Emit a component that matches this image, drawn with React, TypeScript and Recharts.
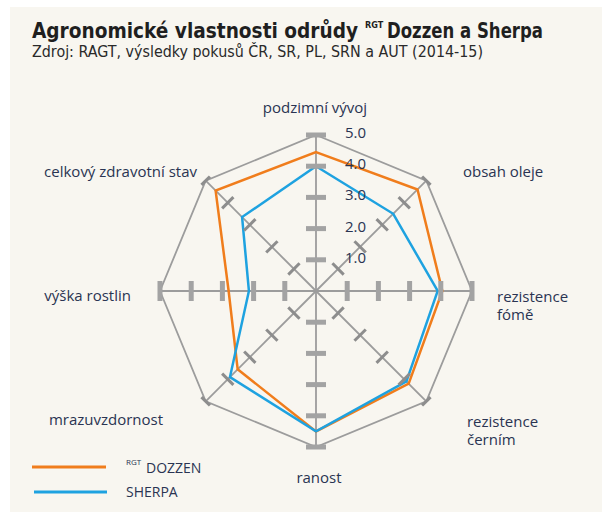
import { PolarAngleAxis, PolarGrid, PolarRadiusAxis, Radar, RadarChart } from "recharts";

const categories = [
  "podzimní vývoj",
  "obsah oleje",
  "rezistence fómě",
  "rezistence černím",
  "ranost",
  "mrazuvzdornost",
  "výška rostlin",
  "celkový zdravotní stav",
];
const dozzen = [4.45, 4.6, 4.05, 4.2, 4.5, 3.55, 2.8, 4.55];
const sherpa = [4.0, 3.5, 3.9, 4.1, 4.5, 3.9, 2.15, 3.35];
const scaleTicks = [0, 1, 2, 3, 4, 5];
const tickLevels = [1, 2, 3, 4, 5];

const data = categories.map((name, i) => {
  const row: Record<string, unknown> = { name, dozzen: dozzen[i], sherpa: sherpa[i] };
  tickLevels.forEach((t) => {
    row["t" + t] = t;
  });
  return row;
});

const ORANGE = "#f07d1c";
const BLUE = "#1ea2e0";
const TEXT = "#2a3452";
const GRID = "#9c9c9c";
const FONT = "'Open Sans', 'Noto Sans', sans-serif";
const NARROW = "'Liberation Sans Narrow', 'DejaVu Sans Condensed', sans-serif";

const CX = 316;
const CY = 291;
const R = 156;

// label placement relative to the angle-axis tick point
const labelPos = [
  { dx: -1, dy: -14, anchor: "middle" },
  { dx: 31, dy: 2, anchor: "start" },
  { dx: 17, dy: 11, anchor: "start" },
  { dx: 35, dy: 20, anchor: "start" },
  { dx: 3, dy: 28, anchor: "middle" },
  { dx: -37, dy: 18, anchor: "end" },
  { dx: -21, dy: 10, anchor: "end" },
  { dx: -3, dy: 2, anchor: "end" },
];

function AngleTick(props: any) {
  const { x, y, payload } = props;
  const i = categories.indexOf(payload.value);
  const p = labelPos[i] || { dx: 0, dy: 0, anchor: "middle" };
  const lines: string[] = payload.value.startsWith("rezistence") ? payload.value.split(" ") : [payload.value];
  return (
    <g>
      {lines.map((l, k) => (
        <text key={k} x={x + p.dx} y={y + p.dy + k * 18} textAnchor={p.anchor} fontSize={15} fill={TEXT} fontFamily={FONT}>
          {l}
        </text>
      ))}
    </g>
  );
}

function RadiusLabel(props: any) {
  const { x, y, payload } = props;
  if (!payload || payload.value === 0) return <g />;
  return (
    <text x={x + 29} y={y + 3} fontSize={15} fill={TEXT} fontFamily={FONT}>
      {Number(payload.value).toFixed(1)}
    </text>
  );
}

// cross bar drawn across each spoke at the tick level
function tickDot(props: any) {
  const { cx: x, cy: y, dataKey } = props;
  const dx = x - CX;
  const dy = y - CY;
  const len = Math.hypot(dx, dy) || 1;
  const px = -dy / len;
  const py = dx / len;
  const diag = Math.abs(dx) > 1 && Math.abs(dy) > 1;
  const outer = dataKey === "t5";
  const half = diag ? (outer ? 6 : 8) : 10;
  return (
    <line
      x1={x - px * half}
      y1={y - py * half}
      x2={x + px * half}
      y2={y + py * half}
      stroke={diag ? "#8d8d8d" : "#a3a3a3"}
      strokeWidth={diag ? 3 : 5}
    />
  );
}

export default function App() {
  return (
    <div style={{ position: "absolute", left: 0, top: 0, width: 602, height: 512, background: "#fff", overflow: "hidden" }}>
      <div style={{ position: "absolute", left: 10, top: 7, right: 0, bottom: 0, background: "#f8f6f0" }} />
      <div style={{ position: "absolute", left: 0, top: 0 }}>
        <RadarChart
          width={602}
          height={512}
          data={data}
          cx={CX}
          cy={CY}
          outerRadius={R}
          margin={{ top: 0, right: 0, bottom: 0, left: 0 }}
        >
          <PolarGrid gridType="polygon" polarRadius={[R]} stroke={GRID} strokeWidth={1.8} />
          <PolarAngleAxis dataKey="name" tick={<AngleTick />} tickLine={false} axisLine={false} />
          <PolarRadiusAxis
            angle={90}
            type="number"
            domain={[0, 5]}
            ticks={scaleTicks}
            tickCount={6}
            axisLine={false}
            tick={<RadiusLabel />}
          />
          {tickLevels.map((t) => (
            <Radar
              key={t}
              dataKey={"t" + t}
              stroke="none"
              fill="none"
              fillOpacity={0}
              dot={tickDot}
              isAnimationActive={false}
            />
          ))}
          <Radar
            dataKey="dozzen"
            stroke={ORANGE}
            strokeWidth={2.5}
            fill="none"
            fillOpacity={0}
            dot={false}
            isAnimationActive={false}
          />
          <Radar
            dataKey="sherpa"
            stroke={BLUE}
            strokeWidth={2.5}
            fill="none"
            fillOpacity={0}
            dot={false}
            isAnimationActive={false}
          />
        </RadarChart>
      </div>
      <svg width={602} height={512} style={{ position: "absolute", left: 0, top: 0, pointerEvents: "none" }}>
        <text x={32} y={38} fontSize={22} fontWeight={700} fill="#1f1f1f" fontFamily={NARROW} textLength={326} lengthAdjust="spacingAndGlyphs">
          Agronomické vlastnosti odrůdy
        </text>
        <text x={365} y={28} fontSize={9} fontWeight={700} fill="#1f1f1f" fontFamily={NARROW}>
          RGT
        </text>
        <text x={387} y={38} fontSize={22} fontWeight={700} fill="#1f1f1f" fontFamily={NARROW} textLength={156} lengthAdjust="spacingAndGlyphs">
          Dozzen a Sherpa
        </text>
        <text x={32} y={57} fontSize={15} fill="#2a2a2a" fontFamily={NARROW} textLength={451} lengthAdjust="spacingAndGlyphs">
          Zdroj: RAGT, výsledky pokusů ČR, SR, PL, SRN a AUT (2014-15)
        </text>
        <line x1={32} y1={467} x2={106} y2={467} stroke={ORANGE} strokeWidth={3} />
        <line x1={34} y1={492} x2={107} y2={492} stroke={BLUE} strokeWidth={3} />
        <text x={126} y={465} fontSize={8} fill={TEXT} fontFamily={FONT}>
          RGT
        </text>
        <text x={146} y={473} fontSize={14} fill={TEXT} fontFamily={FONT}>
          DOZZEN
        </text>
        <text x={126} y={497} fontSize={14} fill={TEXT} fontFamily={FONT}>
          SHERPA
        </text>
      </svg>
    </div>
  );
}
